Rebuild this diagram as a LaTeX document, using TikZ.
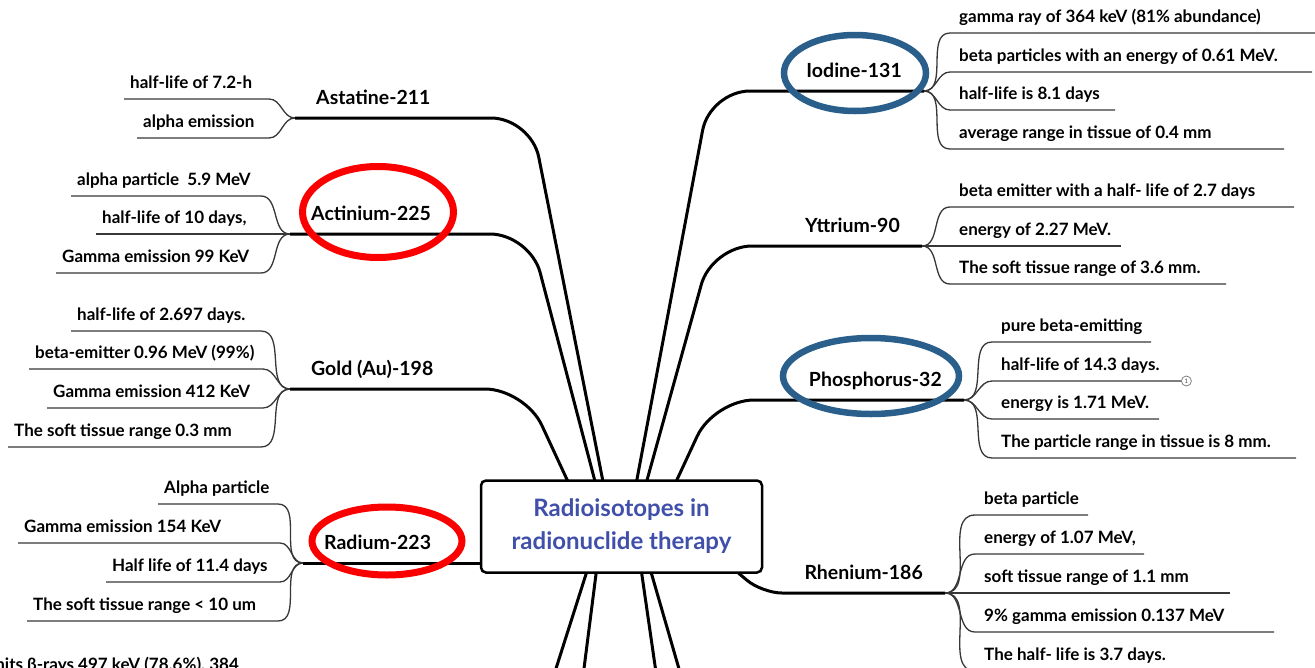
\documentclass[tikz,border=0pt]{standalone}
\usepackage{fontspec}
\setmainfont{Lato}
\usepackage{xcolor}
\usepackage{tikz}
\definecolor{hubblue}{RGB}{64,80,170}
\definecolor{ringred}{RGB}{250,0,0}
\definecolor{ringblue}{RGB}{42,95,140}
\definecolor{twiggray}{RGB}{55,55,55}
\tikzset{
  trunk/.style={line width=3pt, rounded corners=40pt},
  twig/.style={line width=1.3pt, twiggray},
  hub/.style={draw, line width=2.5pt, rounded corners=5pt, fill=white, inner sep=0pt,
    minimum width=281pt, minimum height=92pt, align=center, text=hubblue,
    font=\fontsize{24}{33}\selectfont\bfseries},
  isoL/.style={anchor=south west, inner xsep=21pt, inner ysep=13pt, text depth=0pt,
    font=\fontsize{19.5}{22}\selectfont\bfseries},
  isoR/.style={isoL, anchor=south east, inner xsep=22pt},
  rleaf/.style={anchor=south west, inner xsep=9pt, inner ysep=10pt, text depth=0pt,
    font=\fontsize{17}{20}\selectfont\bfseries},
  lleaf/.style={rleaf, inner xsep=6pt},
  redring/.style={ringred, line width=7pt},
  bluering/.style={ringblue, line width=6.5pt},
  tally/.style={circle, draw=gray, fill=white, line width=0.8pt, inner sep=0pt,
    minimum size=10pt, font=\fontsize{6}{6}\selectfont}
}

\begin{document}
\begin{tikzpicture}[x=1pt,y=-1pt]
\useasboundingbox (0,0) rectangle (1315,667);
\clip (0,0) rectangle (1315,667);
% 分支节点
\node[isoL] (ast) at (295,118) {Astatine-211};
\node[isoL] (act) at (290,234) {Actinium-225};
\node[isoL] (gold) at (290,389) {Gold (Au)-198};
\node[isoL] (rad) at (303,563) {Radium-223};
\node[isoR] (iod) at (924,91) {Iodine-131};
\node[isoR] (ytt) at (922,246) {Yttrium-90};
\node[isoR] (phos) at (964,400) {Phosphorus-32};
\node[isoR] (rhe) at (945,593) {Rhenium-186};
% 中心下方的根
\coordinate (astr) at (612,527);
\coordinate (actr) at (607,527);
\coordinate (goldr) at (589,527);
\coordinate (radr) at (621,563);
\coordinate (iodr) at (628,527);
\coordinate (yttr) at (634,527);
\coordinate (phosr) at (655,527);
\coordinate (rher) at (684,527);
\coordinate (low1) at (546,700);
\coordinate (low2) at (580,700);
\coordinate (low3) at (660,700);
\coordinate (low4) at (688,700);
% 主干
\draw[trunk] (astr) -- (531,118) -- (ast.south west);
\draw[trunk] (actr) -- (530,234) -- (act.south west);
\draw[trunk] (goldr) -- (525,389) -- (gold.south west);
\draw[trunk] (radr) -- (rad.south west);
\draw[trunk] (iodr) -- (710,91) -- (iod.south east);
\draw[trunk] (yttr) -- (712,246) -- (ytt.south east);
\draw[trunk] (phosr) -- (714,400) -- (phos.south east);
\draw[trunk, rounded corners=20pt] (rher) -- (762,593) -- (rhe.south east);
\draw[trunk] (601,527) -- (low1);
\draw[trunk] (602,527) -- (low2);
\draw[trunk] (635,527) -- (low3);
\draw[trunk] (638,527) -- (low4);
% 中心节点
\node[hub] (hub) at (621.5,526.5) {Radioisotopes in\\radionuclide therapy};
% 左侧叶子
\node[lleaf] (a1) at (124,99) {half-life of 7.2-h};
\node[lleaf] (a2) at (137,138) {alpha emission};
\node[lleaf] (c1) at (71,196) {alpha particle\ \ 5.9 MeV};
\node[lleaf] (c2) at (96,234) {half-life of 10 days,};
\node[lleaf] (c3) at (56,273) {Gamma emission 99 KeV};
\node[lleaf] (g1) at (71,331) {half-life of 2.697 days.};
\node[lleaf] (g2) at (29,369) {beta-emitter 0.96 MeV (99\%)};
\node[lleaf] (g3) at (47,408) {Gamma emission 412 KeV};
\node[lleaf] (g4) at (8,447) {The soft tissue range 0.3 mm};
\node[lleaf] (m1) at (158,504) {Alpha particle};
\node[lleaf] (m2) at (18,543) {Gamma emission 154 KeV};
\node[lleaf] (m3) at (106,582) {Half life of 11.4 days};
\node[lleaf] (m4) at (27,621) {The soft tissue range < 10 um};
\node[lleaf, anchor=base east] (lu1) at (245,670) {nits β-rays 497 keV (78.6\%), 384};
\draw[twig] (a1.south west) -- ++(145,0) to[out=0,in=180] (ast.south west);
\draw[twig] (a2.south west) -- ++(132,0) to[out=0,in=180] (ast.south west);
\draw[twig] (c1.south west) -- ++(190,0) to[out=0,in=180] (act.south west);
\draw[twig] (c2.south west) -- ++(165,0) to[out=0,in=180] (act.south west);
\draw[twig] (c3.south west) -- ++(205,0) to[out=0,in=180] (act.south west);
\draw[twig] (g1.south west) -- ++(190,0) to[out=0,in=180] (gold.south west);
\draw[twig] (g2.south west) -- ++(234,0) to[out=0,in=180] (gold.south west);
\draw[twig] (g3.south west) -- ++(216,0) to[out=0,in=180] (gold.south west);
\draw[twig] (g4.south west) -- ++(253,0) to[out=0,in=180] (gold.south west);
\draw[twig] (m1.south west) -- ++(120,0) to[out=0,in=180] (rad.south west);
\draw[twig] (m2.south west) -- ++(262,0) to[out=0,in=180] (rad.south west);
\draw[twig] (m3.south west) -- ++(174,0) to[out=0,in=180] (rad.south west);
\draw[twig] (m4.south west) -- ++(251,0) to[out=0,in=180] (rad.south west);
% 右侧叶子
\node[rleaf] (i1) at (950,33) {gamma ray of 364 keV (81\% abundance)};
\node[rleaf] (i2) at (950,72) {beta particles with an energy of 0.61 MeV.};
\node[rleaf] (i3) at (950,110) {half-life is 8.1 days};
\node[rleaf] (i4) at (950,149) {average range in tissue of 0.4 mm};
\node[rleaf] (y1) at (950,207) {beta emitter with a half- life of 2.7 days};
\node[rleaf] (y2) at (950,246) {energy of 2.27 MeV.};
\node[rleaf] (y3) at (950,284) {The soft tissue range of 3.6 mm.};
\node[rleaf] (p1) at (992,342) {pure beta-emitting};
\node[rleaf] (p2) at (992,381) {half-life of 14.3 days.};
\node[rleaf] (p3) at (992,419) {energy is 1.71 MeV.};
\node[rleaf] (p4) at (992,458) {The particle range in tissue is 8 mm.};
\node[rleaf] (r1) at (975,515) {beta particle};
\node[rleaf] (r2) at (975,554) {energy of 1.07 MeV,};
\node[rleaf] (r3) at (975,593) {soft tissue range of 1.1 mm};
\node[rleaf] (r4) at (975,632) {9\% gamma emission 0.137 MeV};
\node[rleaf] (r5) at (975,671) {The half- life is 3.7 days.};
\draw[twig] (iod.south east) to[out=0,in=180] (i1.south west) -- ++(380,0);
\draw[twig] (iod.south east) to[out=0,in=180] (i2.south west) -- ++(362,0);
\draw[twig] (iod.south east) to[out=0,in=180] (i3.south west) -- ++(165,0);
\draw[twig] (iod.south east) to[out=0,in=180] (i4.south west) -- ++(334,0);
\draw[twig] (ytt.south east) to[out=0,in=180] (y1.south west) -- ++(344,0);
\draw[twig] (ytt.south east) to[out=0,in=180] (y2.south west) -- ++(171,0);
\draw[twig] (ytt.south east) to[out=0,in=180] (y3.south west) -- ++(276,0);
\draw[twig] (phos.south east) to[out=0,in=180] (p1.south west) -- ++(159,0);
\draw[twig] (phos.south east) to[out=0,in=180] (p2.south west) -- ++(189,0)
  node[tally, anchor=west] (p2n) {1};
\draw[twig] (phos.south east) to[out=0,in=180] (p3.south west) -- ++(167,0);
\draw[twig] (phos.south east) to[out=0,in=180] (p4.south west) -- ++(304,0);
\draw[twig] (rhe.south east) to[out=0,in=180] (r1.south west) -- ++(113,0);
\draw[twig] (rhe.south east) to[out=0,in=180] (r2.south west) -- ++(169,0);
\draw[twig] (rhe.south east) to[out=0,in=180] (r3.south west) -- ++(255,0);
\draw[twig] (rhe.south east) to[out=0,in=180] (r4.south west) -- ++(299,0);
\draw[twig] (rhe.south east) to[out=0,in=180] (r5.south west) -- ++(235,0);
% 圈注
\draw[redring] (378,212) ellipse [x radius=75.5pt, y radius=45.5pt];
\draw[redring] (387,541) ellipse [x radius=75pt, y radius=34pt];
\draw[bluering] (855,73) ellipse [x radius=71pt, y radius=38pt];
\draw[bluering] (871,376) ellipse [x radius=88pt, y radius=38pt];
\end{tikzpicture}
\end{document}
